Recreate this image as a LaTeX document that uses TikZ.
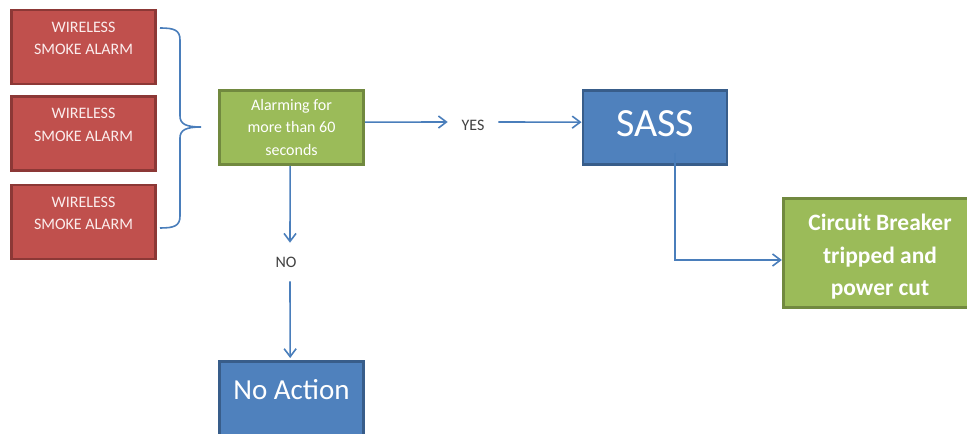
\documentclass[tikz,border=0pt]{standalone}
\usepackage{fontspec}
\setmainfont{Carlito}
\usetikzlibrary{arrows.meta}

\definecolor{redfill}{HTML}{C0504D}
\definecolor{redline}{HTML}{8C3836}
\definecolor{greenfill}{HTML}{9BBB59}
\definecolor{greenline}{HTML}{71893F}
\definecolor{bluefill}{HTML}{4F81BD}
\definecolor{blueline}{HTML}{385D8A}
\definecolor{linkblue}{HTML}{4A7EBB}
\definecolor{labelgrey}{HTML}{404040}
\definecolor{palepink}{HTML}{FBEDED}

\begin{document}
\begin{tikzpicture}[x=0.75pt, y=-0.75pt,
  box/.style={rectangle, line width=2.2pt, inner sep=0pt},
  alarmbox/.style={box, fill=redfill, draw=redline, minimum width=108pt, minimum height=55.5pt},
  checkbox/.style={box, fill=greenfill, draw=greenline, minimum width=108pt, minimum height=55.5pt},
  actbox/.style={box, fill=bluefill, draw=blueline, minimum width=108pt, minimum height=55.5pt},
  resultbox/.style={box, fill=greenfill, draw=greenline, minimum width=145pt, minimum height=82pt},
  smalltext/.style={text=white, align=center, inner sep=0pt, font=\fontsize{12}{17}\selectfont},
  answer/.style={text=labelgrey, inner sep=0pt, font=\fontsize{12}{14}\selectfont},
  conn/.style={draw=linkblue, line width=1.2pt, -{Straight Barb[length=6pt, width=9pt, line width=1.2pt]}}
]
\useasboundingbox (0,0) rectangle (967,434);

% smoke alarms
\node[alarmbox] (r1) at (83.5,47) {};
\node[alarmbox] (r2) at (83.5,133.5) {};
\node[alarmbox] (r3) at (83.5,222) {};
\node[smalltext, text=palepink] (t1) at ([yshift=6.5pt]r1.center) {WIRELESS\\SMOKE ALARM};
\node[smalltext, text=palepink] (t2) at ([yshift=6.5pt]r2.center) {WIRELESS\\SMOKE ALARM};
\node[smalltext, text=palepink] (t3) at ([yshift=6.5pt]r3.center) {WIRELESS\\SMOKE ALARM};

% brace grouping the alarms
\draw[linkblue, line width=1.2pt]
  (160,28) .. controls (174,28) and (180,30) .. (180,40)
  -- (180,116) .. controls (180,124) and (186,127) .. (201,127)
  .. controls (186,127) and (180,130) .. (180,138)
  -- (180,216) .. controls (180,226) and (174,228) .. (160,228);

% decision and outcomes
\node[checkbox, smalltext] (g) at (291.5,127.5) {Alarming for\\more than 60\\seconds};
\node[actbox] (sass) at (655,127.5) {};
\node[text=white, inner sep=0pt, font=\fontsize{30}{34}\selectfont] (sasst) at ([yshift=3pt]sass.center) {SASS};
\node[actbox] (noact) at (291.5,398.5) {};
\node[text=white, inner sep=0pt, font=\fontsize{21.75}{26}\selectfont] (noactt) at ([yshift=6.5pt]noact.center) {No Action};
\node[resultbox] (cb) at (880,253) {};
\node[text=white, align=center, inner sep=0pt, font=\bfseries\fontsize{17.6}{24.4}\selectfont] (cbt) at ([yshift=-3pt]cb.center) {Circuit Breaker\\tripped and\\power cut};

% branch labels
\node[answer, minimum width=37.5pt] (yes) at (473,125) {YES};
\node[answer, minimum height=28.5pt] (no) at (286,262) {NO};

% connectors
\draw[conn] ([yshift=4pt]g.east) -- ([yshift=2.25pt]yes.west);
\draw[conn] ([yshift=2.25pt]yes.east) -- ([yshift=4pt]sass.west);
\draw[conn] ([xshift=-1pt]g.south) -- ([xshift=3pt]no.north);
\draw[conn] ([xshift=3pt]no.south) -- ([xshift=-1pt,yshift=1.5pt]noact.north);
\draw[conn] ([xshift=15pt,yshift=9.75pt]sass.south) |- ([yshift=-5.25pt]cb.west);
\end{tikzpicture}
\end{document}
